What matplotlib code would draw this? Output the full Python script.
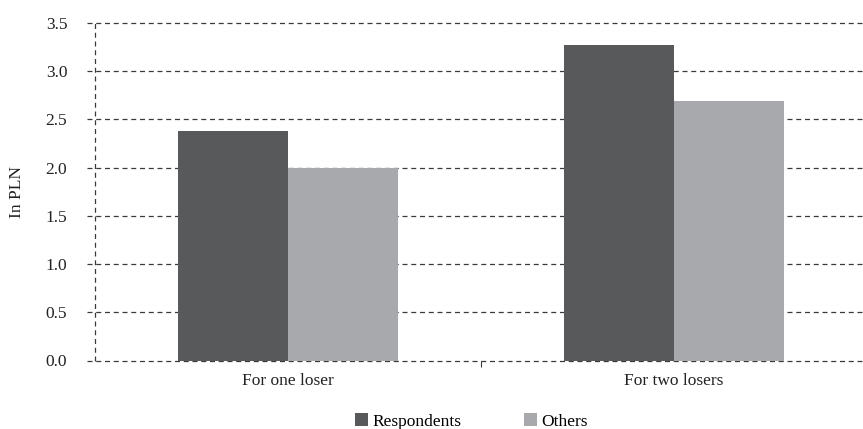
import matplotlib.pyplot as plt
import numpy as np

categories = ['For one loser', 'For two losers']
respondents = [2.38, 3.27]
others = [2.0, 2.69]
y_ticks = [0.0, 0.5, 1.0, 1.5, 2.0, 2.5, 3.0, 3.5]

DARK = '#58595b'
LIGHT = '#a7a9ac'
GRID = '#3a3a3a'

plt.rcParams['font.family'] = ['Liberation Serif', 'DejaVu Serif']


def main():
    fig = plt.figure(figsize=(8.63, 4.29), dpi=100)
    # axes right edge runs a little past the figure, like the reference
    aw = 772
    ax = fig.add_axes([95 / 863, (429 - 360.5) / 429, aw / 863, 337.5 / 429])

    x = np.arange(len(categories))
    w = 0.285
    ax.bar(x - w / 2, respondents, w, color=DARK, label='Respondents', zorder=3)
    ax.bar(x + w / 2, others, w, color=LIGHT, label='Others', zorder=3)

    ax.set_xlim(-0.5, 1.5)
    ax.set_ylim(0, 3.5)

    for s in ax.spines.values():
        s.set_visible(False)

    # dashed gridlines, slightly sticking out left of the axis
    trans = ax.get_yaxis_transform()
    for v in y_ticks:
        ax.plot([-8 / aw, 1], [v, v], transform=trans, color=GRID,
                lw=0.9, ls=(0, (4, 3)), clip_on=False, zorder=1)
    ax.plot([0, 0], [0, 1], transform=ax.transAxes, color=GRID,
            lw=0.9, ls=(0, (4, 3)), clip_on=False, zorder=1)

    ax.set_yticks(y_ticks)
    ax.set_yticklabels([f'{v:.1f}' for v in y_ticks])
    ax.tick_params(axis='y', length=0, pad=20, labelsize=12.5, colors='#222222')
    ax.set_xticks(x)
    ax.set_xticklabels(categories)
    ax.tick_params(axis='x', length=0, pad=9, labelsize=12.5, colors='#222222')
    ax.set_xticks([0.5], minor=True)
    ax.tick_params(axis='x', which='minor', length=4, width=0.8, color=GRID)

    ax.set_ylabel('In PLN', fontsize=12.5, color='#222222')
    ax.yaxis.set_label_coords(-70 / aw, 0.5)

    ax.legend(loc='center', bbox_to_anchor=(0.488, -61 / 337.5), ncol=2,
              frameon=False, fontsize=12.5, handlelength=0.75, handleheight=0.75,
              handletextpad=0.25, columnspacing=3.6)

    fig.savefig('out.png', dpi=100)


if __name__ == '__main__':
    main()
